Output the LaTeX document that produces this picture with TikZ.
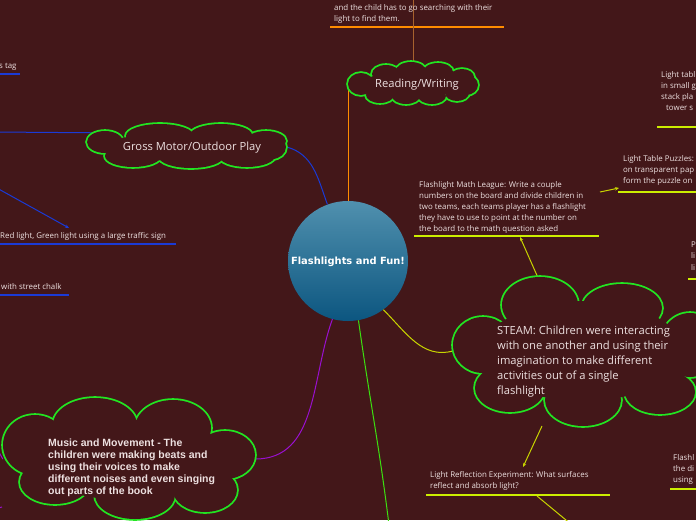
\documentclass[tikz,border=0pt]{standalone}
\usepackage{fontspec}
\setmainfont{Open Sans}
\newfontfamily\centerfont{DejaVu Sans}
\newfontfamily\arialfont{Liberation Sans}
\usetikzlibrary{shapes.geometric,arrows.meta}
\definecolor{bg}{HTML}{431719}
\definecolor{txt}{HTML}{EDE0E0}
\definecolor{cgreen}{HTML}{22E622}
\definecolor{corange}{HTML}{FF8C00}
\definecolor{cbrown}{HTML}{A8622E}
\definecolor{cblue}{HTML}{1A3AD6}
\definecolor{cyel}{HTML}{C8D400}
\definecolor{cyel2}{HTML}{CCEE00}
\definecolor{cpurple}{HTML}{9A10D0}
\definecolor{cgreen2}{HTML}{3CE010}
\definecolor{ctop}{HTML}{5090AE}
\definecolor{cbot}{HTML}{0C5680}
\tikzset{
  anchorshape/.style={ellipse, draw=none, inner sep=0pt},
  small/.style={text=txt, font=\fontsize{7.9}{11.1}\selectfont, align=left, inner sep=0pt, anchor=north west},
  label/.style={text=txt, font=\fontsize{11.2}{13}\selectfont, inner sep=0pt},
  uline/.style={line width=1.6pt},
  conn/.style={line width=1pt},
  arr/.style={-{Stealth[length=4pt,width=3.5pt]}}
}
% a cloud as the union of puffs (ellipses): stroke all, then fill all
\newcommand{\cloudpuffs}[1]{%
  \foreach \x/\y/\a/\b in {#1} {\draw[cgreen, line width=3.6pt] (\x,\y) ellipse [x radius=\a pt, y radius=\b pt];}
  \foreach \x/\y/\a/\b in {#1} {\fill[bg] (\x,\y) ellipse [x radius=\a pt, y radius=\b pt];}
}
\begin{document}
\begin{tikzpicture}[x=1pt,y=-1pt]
\useasboundingbox[fill=bg] (0,0) rectangle (696,520);

% central topic
\node[circle, minimum size=120pt, inner sep=0pt, top color=ctop, bottom color=cbot, draw=none] (c) at (348,261) {};

% cloud anchor shapes
\node[anchorshape, minimum width=130pt, minimum height=42pt] (rw) at (413,83) {};
\node[anchorshape, minimum width=199pt, minimum height=47pt] (gm) at (187,147) {};
\node[anchorshape, minimum width=260pt, minimum height=148pt] (st) at (583,351) {};
\node[anchorshape, minimum width=252pt, minimum height=122pt] (mm) at (129,459) {};

% underlines
\draw[uline, corange] (330,27) -- (504,27);
\draw[uline, cblue] (0,74) -- (20,74);
\draw[uline, cblue] (0,244) -- (176,244);
\draw[uline, cblue] (0,295) -- (69,295);
\draw[uline, cyel2] (414,236) -- (599,236);
\draw[uline, cyel2] (618,192) -- (696,192);
\draw[uline, cyel2] (657,127) -- (696,127);
\draw[uline, cyel2] (688,279) -- (696,279);
\draw[uline, cyel2] (426,495) -- (610,495);
\draw[uline, cyel2] (670,489) -- (696,489);

% off-canvas / anchor coordinates
\coordinate (topend) at (413,-5);
\coordinate (gmoff) at (-5,132);
\coordinate (rloff) at (-5,187);
\coordinate (rlin) at (69,228);
\coordinate (mathin) at (520,237);
\coordinate (mathout) at (600,192);
\coordinate (ltpin) at (619,188);
\coordinate (stn) at (539,280);
\coordinate (sts) at (542,426);
\coordinate (lrin) at (523,467);
\coordinate (lrout) at (537,496);
\coordinate (lroff) at (572,525);
\coordinate (grnoff) at (389,525);
\coordinate (mmoff1) at (-5,445);
\coordinate (mmoff2) at (-5,509);
\coordinate (mmin2) at (2,507);

% connectors
\draw[conn, corange] (c.north) -- (348,83) -- (rw.west);
\draw[conn, cbrown] (rw.north) -- (topend);
\draw[conn, cblue] (c.110) to[out=110, in=-15] (gm.east);
\draw[conn, cblue] (gm.170) -- (gmoff);
\draw[conn, cblue, arr] (rloff) -- (rlin);
\draw[conn, cyel] (c.-54) to[out=-45, in=195] (st.west);
\draw[conn, cyel, arr] (stn) -- (mathin);
\draw[conn, cyel, arr] (mathout) -- (ltpin);
\draw[conn, cyel, arr] (sts) -- (lrin);
\draw[conn, cyel] (lrout) -- (lroff);
\draw[conn, cgreen2] (c.-80) to[out=-82, in=97] (grnoff);
\draw[conn, cpurple] (c.255) to[out=250, in=0] (mm.east);
\draw[conn, cpurple] (mm.west) -- (mmoff1);
\draw[conn, cpurple] (mmin2) -- (mmoff2);

% clouds
\cloudpuffs{361/84/13/11, 386/74/14/9, 411/71/15/9, 438/72/15/9, 462/77/12/8, 466/85/12/10, 380/95/14/8, 406/96/14/8, 432/96/14/8, 457/93/12/8}
\fill[bg] (413,84) ellipse [x radius=50pt, y radius=13pt];
\cloudpuffs{105/142/18/11, 160/136/34/12, 221/135/31/11, 266/141/20/10, 272/147/14/12, 133/156/28/11, 191/157/32/11, 247/156/28/11}
\fill[bg] (187,147) ellipse [x radius=85pt, y radius=14pt];
\cloudpuffs{483/345/30/28, 540/305/38/28, 622/308/40/24, 690/345/30/32, 660/392/35/22, 583/400/38/26, 510/388/35/24}
\fill[bg] (583,351) ellipse [x radius=100pt, y radius=50pt];
\cloudpuffs{35/445/32/30, 95/425/42/27, 173/428/38/28, 225/455/30/24, 205/490/32/22, 135/495/40/24, 55/482/35/22}
\fill[bg] (129,460) ellipse [x radius=100pt, y radius=40pt];

% texts
\node[text=white, font=\centerfont\bfseries\fontsize{9.9}{11}\selectfont, inner sep=0pt] (ct) at (348,262) {Flashlights and Fun!};
\node[label] (rwt) at (417,85) {Reading/Writing};
\node[label] (gmt) at (192,148) {Gross Motor/Outdoor Play};
\node[text=txt, font=\fontsize{11.2}{15}\selectfont, align=left, inner sep=0pt, anchor=north west] (stt) at (497,326) {STEAM: Children were interacting\\with one another and using their\\imagination to make different\\activities out of a single\\flashlight};
\node[text=txt, font=\arialfont\bfseries\fontsize{10.5}{12}\selectfont, align=left, inner sep=0pt, anchor=north west] (mmt) at (48,439) {Music and Movement - The\\children were making beats and\\using their voices to make\\different noises and even singing\\out parts of the book};

\node[small] (top) at (334,4) {and the child has to go searching with their\\light to find them.};
\node[small] (tag) at (-1,63) {s tag};
\node[small] (rl) at (0,232) {Red light, Green light using a large traffic sign};
\node[small] (chalk) at (1,283) {with street chalk};
\node[small] (math) at (419,181) {Flashlight Math League: Write a couple\\numbers on the board and divide children in\\two teams, each teams player has a flashlight\\they have to use to point at the number on\\the board to the math question asked};
\node[small] (ltp) at (623,155) {Light Table Puzzles:\\on transparent pap\\form the puzzle on};
\node[small] (ltb) at (661,71) {Light tabl\\in small g\\stack pla\\\hspace*{5pt}tower s};
\node[small] (pl) at (691,242) {P\\li\\li};
\node[small] (lr) at (430,471) {Light Reflection Experiment: What surfaces\\reflect and absorb light?};
\node[small] (fl) at (673,454) {Flashl\\the di\\using};
\end{tikzpicture}
\end{document}
